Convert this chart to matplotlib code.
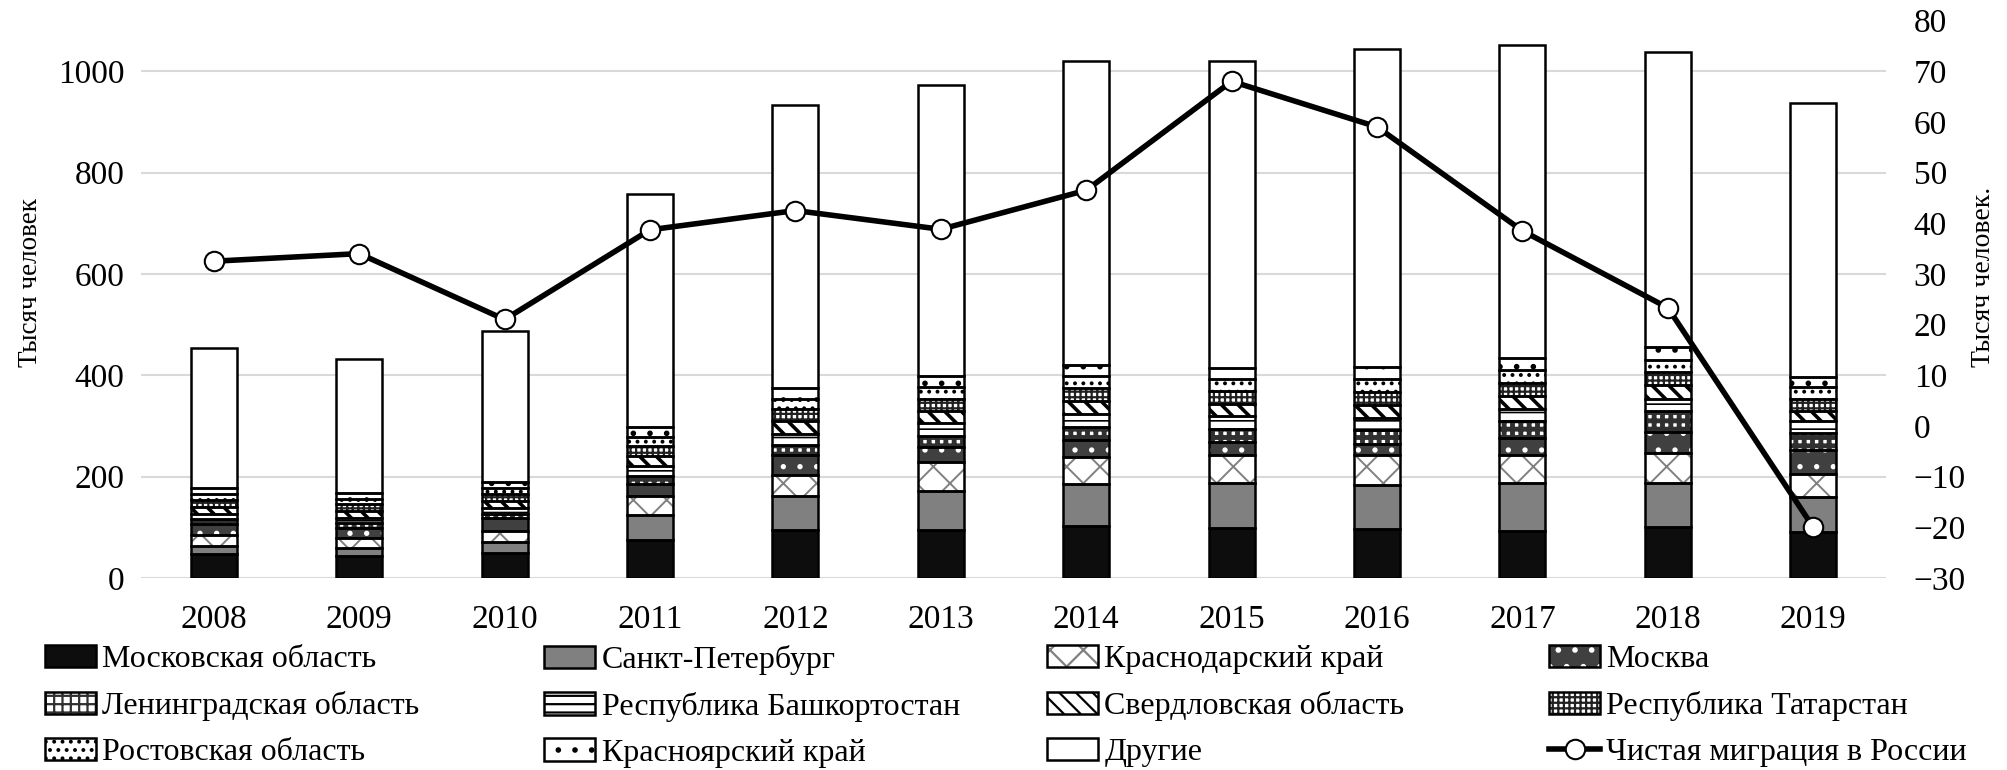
import matplotlib
matplotlib.use("Agg")
import matplotlib.pyplot as plt
from matplotlib.patches import Patch
from matplotlib.lines import Line2D
import numpy as np

plt.rcParams['font.family'] = ['Liberation Serif', 'DejaVu Serif']
plt.rcParams['hatch.linewidth'] = 1.6

years = ['2008', '2009', '2010', '2011', '2012', '2013', '2014', '2015', '2016', '2017', '2018', '2019']

regions = ['Московская область', 'Санкт-Петербург', 'Краснодарский край', 'Москва',
           'Ленинградская область', 'Республика Башкортостан', 'Свердловская область',
           'Республика Татарстан', 'Ростовская область', 'Красноярский край', 'Другие']

# тыс. человек, по годам 2008-2019
moscow_obl = [47, 44, 49, 75, 95, 95, 103, 99, 97, 93, 101, 90]
spb = [16, 16, 21, 49, 66, 76, 82, 88, 87, 95, 87, 69]
krasnodar = [22, 19, 23, 38, 43, 57, 54, 55, 59, 55, 59, 46]
moscow = [21, 20, 25, 23, 39, 31, 33, 26, 21, 33, 41, 48]
leningrad = [10, 9, 8, 16, 19, 22, 25, 25, 28, 33, 41, 34]
bashkortostan = [11, 11, 12, 20, 23, 24, 26, 26, 24, 24, 25, 22]
sverdlovsk = [14, 14, 14, 20, 25, 25, 26, 25, 25, 26, 26, 21]
tatarstan = [13, 12, 14, 20, 23, 23, 25, 24, 26, 26, 26, 23]
rostov = [11, 11, 12, 18, 21, 23, 24, 25, 26, 26, 24, 23]
krasnoyarsk = [13, 11, 12, 18, 20, 22, 23, 22, 24, 23, 26, 20]
others = [276, 265, 297, 460, 559, 575, 599, 605, 626, 617, 581, 541]

# тыс. человек, правая ось
net_migration = [32.5, 34, 21, 38.7, 42.5, 38.8, 46.5, 68, 59, 38.5, 23.3, -20]

series = [moscow_obl, spb, krasnodar, moscow, leningrad, bashkortostan, sverdlovsk,
          tatarstan, rostov, krasnoyarsk, others]

# (заливка, штриховка, цвет штриховки, толщина штриховки)
styles = [
    ('#0d0d0d', None, 'none', 1.0),
    ('#808080', None, 'none', 1.0),
    ('white', 'x', '#808080', 1.4),
    ('#404040', '.', 'white', 1.4),
    ('white', '++', '#303030', 3.5),
    ('white', '--', 'black', 1.2),
    ('white', '\\\\', 'black', 2.6),
    ('white', '+++', '#202020', 1.6),
    ('white', '..', 'black', 1.6),
    ('white', '.', 'black', 1.6),
    ('white', None, 'none', 1.0),
]


def hatch_lw(p, lw):
    f = getattr(p, 'set_hatch_linewidth', None)
    if f is not None:
        f(lw)


fig = plt.figure(figsize=(20.07, 7.7), dpi=100)
ax = fig.add_axes([0.0703, 0.2494, 0.8694, 0.724])
ax2 = ax.twinx()

x = np.arange(len(years))
w = 0.316
bottom = np.zeros(len(years))
handles = []
for vals, (fc, hatch, hc, hlw), name in zip(series, styles, regions):
    vals = np.array(vals, dtype=float)
    bars = ax.bar(x, vals, w, bottom=bottom, color=fc, hatch=hatch, edgecolor=hc, linewidth=0, zorder=2)
    for b in bars:
        hatch_lw(b, hlw)
    ax.bar(x, vals, w, bottom=bottom, fill=False, edgecolor='black', linewidth=1.8, zorder=3)
    bottom += vals
    p = Patch(facecolor=fc, hatch=hatch, edgecolor=hc, linewidth=0)
    hatch_lw(p, hlw)
    h = (p, Patch(fill=False, edgecolor='black', linewidth=1.8))
    handles.append((h, name))

ax2.plot(x, net_migration, color='black', linewidth=4, marker='o', markersize=14,
         markerfacecolor='white', markeredgecolor='black', markeredgewidth=1.5, zorder=5)
line_handle = Line2D([], [], color='black', linewidth=4, marker='o', markersize=14,
                     markerfacecolor='white', markeredgecolor='black', markeredgewidth=1.5)
handles.append((line_handle, 'Чистая миграция в России'))

ax.set_xlim(-0.5, len(years) - 0.5)
ax.set_ylim(0, 1100)
ax.set_yticks([0, 200, 400, 600, 800, 1000])
ax2.set_ylim(-30, 80)
ax2.set_yticks(range(-30, 81, 10))
ax.set_xticks(x)
ax.set_xticklabels(years)

ax.grid(axis='y', color='#d9d9d9', linewidth=1.5, zorder=0)
ax.set_axisbelow(True)
for a in (ax, ax2):
    for s in a.spines.values():
        s.set_visible(False)
    a.tick_params(length=0, labelsize=24)
ax.tick_params(axis='x', pad=19)
ax.tick_params(axis='y', pad=12)
ax2.tick_params(axis='y', pad=20)

ax.set_ylabel('Тысяч человек', fontsize=19.5)
ax.yaxis.set_label_coords(-0.056, 0.53)
ax2.set_ylabel('Тысяч человек.', fontsize=20)
ax2.yaxis.set_label_coords(1.049, 0.54)

# легенда: 4 колонки по 3 строки
col_x = [45, 544, 1047, 1549]
for c in range(4):
    items = handles[c::4]
    fig.legend([h for h, _ in items], [n for _, n in items],
               loc='upper left', bbox_to_anchor=(col_x[c] / 2007, 1 - 645 / 770),
               frameon=False, fontsize=23, handlelength=1.6, handleheight=0.7,
               handletextpad=0.2, labelspacing=0.52, borderpad=0, borderaxespad=0)

fig.savefig('out.png', dpi=100)
